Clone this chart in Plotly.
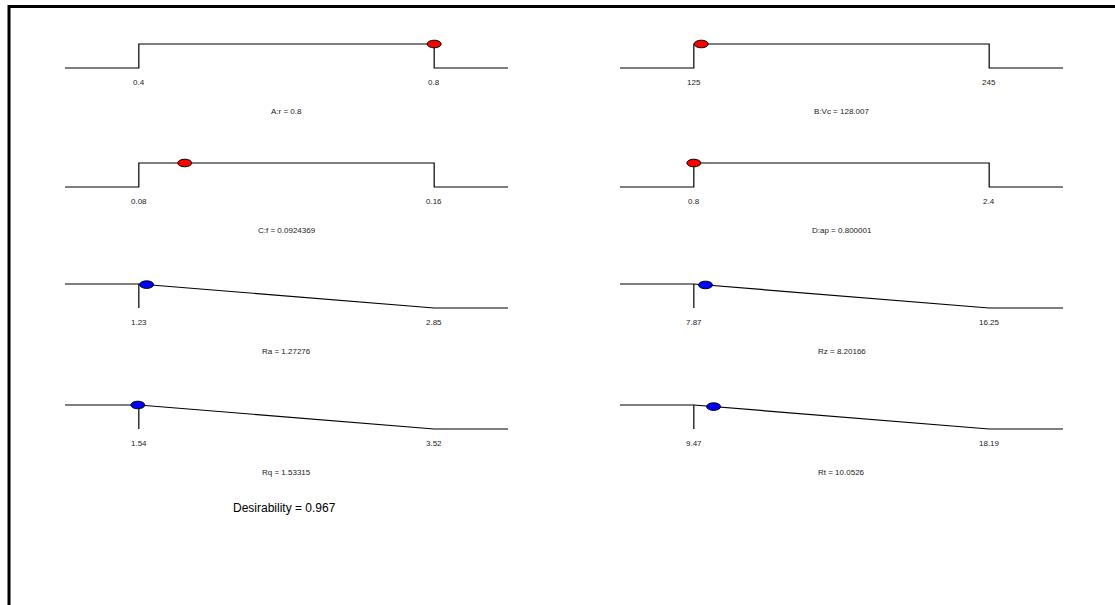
import plotly.graph_objects as go

# Factors (goal: in range)
factor_names = ["A:r", "B:Vc", "C:f", "D:ap"]
factor_low = [0.4, 125, 0.08, 0.8]
factor_high = [0.8, 245, 0.16, 2.4]
factor_value = [0.8, 128.007, 0.0924369, 0.800001]

# Responses (goal: minimize)
response_names = ["Ra", "Rz", "Rq", "Rt"]
response_low = [1.23, 7.87, 1.54, 9.47]
response_high = [2.85, 16.25, 3.52, 18.19]
response_value = [1.27276, 8.20166, 1.53315, 10.0526]

overall_desirability = 0.967

W, H = 1115, 605
FONT = "Liberation Sans, Arial, sans-serif"
col_px = [(65, 508), (620, 1063)]      # horizontal extent of each ramp column
row_top_px = [44, 163, 284, 405]       # pixel row of d = 1 for each row
UNIT = 24                              # pixels per unit of desirability

panels = []
for i in range(4):
    panels.append(dict(kind="factor", name=factor_names[i], lo=factor_low[i],
                       hi=factor_high[i], val=factor_value[i],
                       row=i // 2, col=i % 2))
for i in range(4):
    panels.append(dict(kind="response", name=response_names[i], lo=response_low[i],
                       hi=response_high[i], val=response_value[i],
                       row=2 + i // 2, col=i % 2))

fig = go.Figure()
annotations = []
shapes = []
layout_axes = {}

for k, p in enumerate(panels):
    n = "" if k == 0 else str(k + 1)
    xa, ya = "x" + n, "y" + n
    lo, hi, val = p["lo"], p["hi"], p["val"]
    ext = 0.25 * (hi - lo)
    x0, x1 = lo - ext, hi + ext

    x_left, x_right = col_px[p["col"]]
    p1 = row_top_px[p["row"]]
    top_px, bot_px = p1 - 14, p1 + UNIT + 60
    y_top, y_bot = 1 + 14 / UNIT, -60 / UNIT

    layout_axes["xaxis" + n] = dict(domain=[x_left / W, x_right / W], range=[x0, x1],
                                    visible=False, anchor=ya, fixedrange=True)
    layout_axes["yaxis" + n] = dict(domain=[1 - bot_px / H, 1 - top_px / H],
                                    range=[y_bot, y_top], visible=False,
                                    anchor=xa, fixedrange=True)

    if p["kind"] == "factor":
        xs = [x0, lo, lo, hi, hi, x1]
        ys = [0, 0, 1, 1, 0, 0]
        d = 1.0 if lo <= val <= hi else 0.0
    else:
        xs = [x0, lo, hi, x1, None, lo, lo]
        ys = [1, 1, 0, 0, None, 1, 0]
        d = min(1.0, max(0.0, (hi - val) / (hi - lo)))

    fig.add_trace(go.Scatter(x=xs, y=ys, xaxis=xa, yaxis=ya, mode="lines",
                             line=dict(color="black", width=1.2),
                             hoverinfo="skip", showlegend=False))

    # current setting marker (ellipse)
    shapes.append(dict(type="circle", xref=xa, yref=ya,
                       xsizemode="pixel", ysizemode="pixel",
                       xanchor=val, yanchor=d, x0=-7, x1=7, y0=-3.8, y1=3.8,
                       fillcolor="#ff0000" if p["kind"] == "factor" else "#0000ff",
                       line=dict(color="black", width=1)))

    for v in (lo, hi):
        annotations.append(dict(x=v, y=-14 / UNIT, xref=xa, yref=ya, text=f"{v:g}",
                                showarrow=False, xanchor="center", yanchor="middle",
                                font=dict(family=FONT, size=8, color="#222")))
    annotations.append(dict(x=(x0 + x1) / 2, y=-43 / UNIT, xref=xa, yref=ya,
                            text=f"{p['name']} = {val:g}", showarrow=False,
                            xanchor="center", yanchor="middle",
                            font=dict(family=FONT, size=8, color="#222")))

annotations.append(dict(x=284 / W, y=1 - 508 / H, xref="paper", yref="paper",
                        text=f"Desirability = {overall_desirability:.3f}",
                        showarrow=False, xanchor="center", yanchor="middle",
                        font=dict(family=FONT, size=12, color="black")))

# outer frame
shapes.append(dict(type="rect", xref="paper", yref="paper",
                   x0=9 / W, x1=1.05, y0=-0.05, y1=1 - 6.5 / H,
                   line=dict(color="black", width=3), fillcolor="rgba(0,0,0,0)"))

fig.update_layout(width=W, height=H, margin=dict(l=0, r=0, t=0, b=0),
                  paper_bgcolor="white", plot_bgcolor="white",
                  showlegend=False, annotations=annotations, shapes=shapes,
                  **layout_axes)

fig.write_html("out.html", config={"displayModeBar": False})
